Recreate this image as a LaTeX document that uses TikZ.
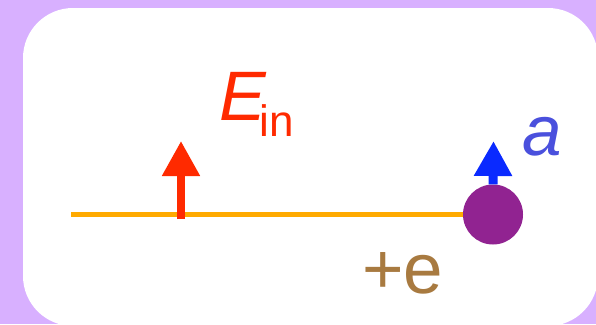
\documentclass[tikz,border=0pt]{standalone}
\usepackage{fontspec}
\setmainfont{Liberation Sans}
\usetikzlibrary{arrows.meta}
\definecolor{bgl}{HTML}{D8B0FF}
\definecolor{wireor}{HTML}{FFAA00}
\definecolor{fieldred}{HTML}{FF2A00}
\definecolor{chargepur}{HTML}{912391}
\definecolor{accblue}{HTML}{0A2AFF}
\definecolor{lblblue}{HTML}{4A50DD}
\definecolor{lblbrown}{HTML}{A87A40}
\tikzset{
  bigarrow/.style={line width=#1, -{Triangle[length=35pt,width=36pt]}},
  lbl/.style={inner sep=0pt, outer sep=0pt},
  charge/.style={circle, fill=chargepur, minimum size=60pt, inner sep=0pt},
}
\begin{document}
\begin{tikzpicture}[x=1pt,y=-1pt]
\useasboundingbox (0,0) rectangle (596,324);
\fill[bgl] (0,0) rectangle (596,324);
\fill[white, rounded corners=50pt] (23,8) rectangle (598,326);
% wire
\coordinate (wstart) at (71,214.5);
\coordinate (qc) at (493,214.5);
\draw[wireor, line width=5pt] (wstart) -- (qc);
\node[charge] (q) at (qc) {};
% field arrow
\coordinate (ebot) at (181,219);
\coordinate (etip) at (181,141);
\draw[fieldred, bigarrow=8pt] (ebot) -- (etip);
% acceleration arrow
\coordinate (atip) at (493.5,141);
\draw[accblue, bigarrow=9pt] (q.north) -- (atip);
% labels
\node[lbl, anchor=base west, text=fieldred] (elab) at (219,120)
  {\fontsize{70}{70}\selectfont\itshape E\kern-6pt\fontsize{44}{44}\selectfont\upshape\raisebox{-16pt}{in}};
\node[lbl, anchor=base west, text=lblblue] (alab) at (522,155)
  {\fontsize{71}{71}\selectfont\itshape a};
\node[lbl, anchor=base west, text=lblbrown] (elabel) at (362,293)
  {\fontsize{71}{71}\selectfont +e};
\end{tikzpicture}
\end{document}
